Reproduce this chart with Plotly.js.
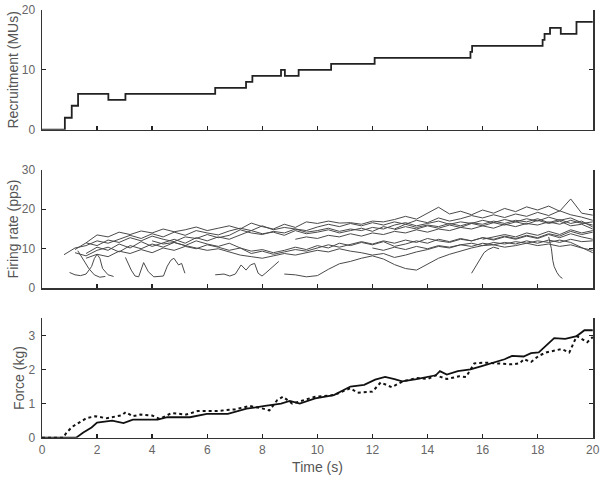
<!DOCTYPE html>
<html>
<head>
<meta charset="utf-8">
<script src="https://cdn.plot.ly/plotly-3.0.1.min.js"></script>
<style>html,body{margin:0;padding:0;background:#fff;}#chart{width:600px;height:482px;}</style>
</head>
<body>
<div id="chart"></div>
<script>
// ---------- Recruitment (step) ----------
const recTime = [0, 0.83, 1.08, 1.31, 2.41, 3.03, 6.29, 7.41, 7.64, 8.68, 8.82, 9.32, 10.5, 12.08, 15.56, 15.62, 18.18, 18.25, 18.45, 18.84, 19.41, 20.0];
const recCount = [0, 2, 4, 6, 5, 6, 7, 8, 9, 10, 9, 10, 11, 12, 13, 14, 15, 16, 17, 16, 18, 18];

// ---------- Firing rates (shared time grid, null = unit not yet active) ----------
const frTime = [0.8,1.2,1.6,2.0,2.4,2.8,3.2,3.6,4.0,4.4,4.8,5.2,5.6,6.0,6.4,6.8,7.2,7.6,8.0,8.4,8.8,9.2,9.6,10.0,10.4,10.8,11.2,11.6,12.0,12.4,12.8,13.2,13.6,14.0,14.4,14.8,15.2,15.6,16.0,16.4,16.8,17.2,17.6,18.0,18.4,18.8,19.2,19.6,20.0];
const N = null;
const fr1 = [N,N,11.5,13.5,13.0,14.2,13.6,14.5,14.0,15.0,14.3,14.8,15.5,14.6,15.2,15.8,15.0,16.5,15.6,15.0,16.2,15.4,16.8,16.4,17.0,16.5,16.6,16.2,17.0,16.8,17.4,18.2,17.5,19.0,20.5,18.8,19.5,18.6,19.8,19.0,20.2,19.4,20.6,19.8,20.8,19.5,22.6,19.0,18.5];
const fr2 = [8.5,10.2,10.8,12.0,11.4,12.5,13.4,12.6,13.8,13.0,14.2,13.4,14.6,14.0,13.5,14.5,15.2,14.6,15.8,14.8,15.4,15.0,14.6,15.5,16.2,15.6,16.4,15.8,16.6,16.0,16.8,16.2,17.2,16.6,17.8,17.0,17.6,18.4,17.8,18.6,17.9,18.8,18.2,19.2,18.4,19.6,18.6,18.0,17.2];
const fr3 = [N,9.8,11.5,10.8,12.2,11.6,12.8,12.0,13.2,12.4,11.8,13.0,12.6,13.6,12.8,13.4,14.8,14.0,13.6,14.4,14.0,15.0,14.2,14.6,15.2,14.4,15.0,14.6,15.4,15.0,16.0,16.6,15.8,16.4,17.0,16.2,16.8,16.4,17.2,16.6,17.4,16.8,17.6,17.0,18.0,17.2,17.8,16.6,16.0];
const fr4 = [N,N,8.8,10.4,9.6,11.2,10.2,11.8,10.6,11.6,12.4,11.4,12.8,12.0,13.0,12.4,13.6,14.6,13.8,14.2,13.4,14.6,13.8,14.2,14.8,14.0,14.6,15.2,14.4,15.6,15.0,16.2,15.4,16.0,15.6,16.4,15.8,16.6,16.2,17.0,16.4,17.2,16.8,17.6,16.6,17.4,16.4,17.0,15.5];
const fr5 = [N,9.0,8.2,9.6,10.4,9.2,10.8,10.0,11.2,10.4,11.6,10.8,12.0,11.2,10.6,11.4,10.2,9.4,9.8,9.0,9.6,10.4,9.8,10.8,10.2,11.4,10.8,11.6,11.0,11.8,10.6,11.2,12.0,11.4,12.4,11.8,12.6,12.0,12.8,12.4,13.2,12.6,13.4,12.8,13.8,13.2,14.4,13.6,14.2];
const fr6 = [N,N,7.6,8.6,8.0,9.4,8.8,9.8,9.0,10.2,9.6,10.6,10.0,11.0,10.4,9.6,10.2,8.8,9.4,8.6,9.2,9.8,9.4,10.2,11.0,10.4,11.2,11.8,11.2,12.0,11.4,12.2,11.6,12.6,12.0,11.6,12.4,12.0,12.8,12.2,13.0,12.4,13.2,12.6,13.6,12.8,13.8,13.0,12.4];
const fr7 = [N,N,N,N,N,N,N,N,12.0,11.2,11.6,10.8,10.2,9.6,10.0,9.2,8.4,8.0,7.6,8.2,8.8,8.4,9.0,9.6,9.2,10.0,9.4,9.0,8.4,8.8,7.8,8.4,9.2,9.8,10.6,10.2,11.0,10.6,11.4,11.0,11.6,11.2,12.0,11.4,12.2,11.6,12.4,11.8,12.0];
const fr8 = [N,N,N,N,N,N,N,N,N,N,N,N,N,N,N,N,N,N,N,N,3.6,3.4,2.9,3.2,4.8,6.2,6.8,7.6,8.2,7.4,6.0,5.0,4.6,6.0,7.6,8.6,9.4,10.2,10.8,11.0,10.4,10.8,11.4,10.8,11.2,10.6,11.0,10.2,9.6];
const fr9 = [N,N,N,N,N,N,N,N,N,N,N,N,N,N,N,N,N,N,N,N,N,N,N,N,N,N,N,N,10.2,9.6,10.4,9.8,10.6,10.0,10.8,10.4,11.0,11.4,10.8,11.6,11.2,11.8,11.4,12.0,11.6,12.2,11.6,10.4,9.0];
const fr10 = [N,N,N,N,N,N,N,N,N,N,N,N,N,N,N,N,N,N,N,N,N,12.4,13.0,12.6,13.4,13.0,13.8,13.2,14.0,13.6,14.4,14.0,14.8,14.2,15.0,14.6,15.4,15.0,15.8,15.2,16.2,15.6,16.4,16.0,16.8,16.2,17.2,16.4,16.8];
const fr11 = [N,N,N,N,N,N,N,N,N,N,N,N,N,N,N,N,N,N,N,N,N,N,N,N,N,N,N,N,N,N,14.8,15.6,15.0,15.8,15.2,16.0,15.4,16.4,15.8,16.6,16.0,16.8,16.2,17.2,16.4,17.0,15.8,16.2,15.0];
const fr12 = [N,N,N,N,N,N,N,N,N,N,N,N,N,N,N,N,N,N,N,N,N,N,N,N,N,N,N,N,N,N,N,N,N,N,N,N,N,N,12.4,13.0,13.6,13.0,14.0,13.4,14.4,13.6,14.8,14.0,14.6];

// short-lived low-rate units
const frag1T = [1.0,1.2,1.4,1.6,1.8,1.9,2.0,2.1,2.2,2.4,2.6];
const frag1V = [4.0,3.4,3.2,3.6,5.5,7.5,8.6,7.6,5.0,3.4,3.0];
const frag2T = [1.3,1.5,1.7,1.9,2.1,2.3];
const frag2V = [9.5,7.2,5.0,3.4,2.8,3.0];
const frag3T = [3.03,3.24,3.38,3.51,3.69,3.86,4.06,4.41,4.55,4.68,4.79,4.96,5.07,5.19];
const frag3V = [7.8,4.6,3.1,2.9,6.5,4.2,2.9,3.1,5.6,7.1,7.6,5.9,6.3,3.8];
const frag4T = [6.29,6.61,6.82,7.02,7.23,7.41,7.57,7.72,7.85,7.99,8.13,8.4,8.6];
const frag4V = [3.4,3.6,3.1,3.6,5.9,4.6,5.9,6.3,3.8,3.1,3.9,5.6,6.8];
const frag5T = [15.6,15.75,15.9,16.05,16.2,16.4,16.6];
const frag5V = [3.8,5.5,7.2,9.0,9.8,10.4,10.0];
const frag6T = [18.4,18.5,18.55,18.6,18.7,18.8,18.9];
const frag6V = [13.0,10.0,7.0,5.5,4.0,3.0,2.5];

// ---------- Force ----------
const forceTime = [0,1.24,1.5,1.8,2.0,2.55,2.96,3.3,4.2,4.55,5.37,5.99,6.75,7.43,8.1,8.68,9.0,9.36,9.92,10.6,11.2,11.7,12.1,12.46,12.8,13.08,13.6,14.3,14.45,14.7,15.1,15.56,15.97,16.39,16.8,17.07,17.49,17.76,18.04,18.6,19.0,19.42,19.7,20.0];
const forceMeasured = [0,0,0.15,0.3,0.44,0.5,0.43,0.53,0.53,0.6,0.6,0.7,0.7,0.85,0.93,1.0,1.08,1.0,1.15,1.25,1.5,1.55,1.7,1.78,1.72,1.65,1.72,1.83,1.95,1.85,1.95,2.0,2.1,2.2,2.3,2.4,2.38,2.48,2.5,2.92,2.9,2.98,3.15,3.15];
const estTime = [0,0.77,0.89,1.1,1.3,1.61,1.93,2.35,2.9,3.04,3.3,3.58,4.0,4.27,4.7,5.24,5.65,6.3,7.0,7.55,7.99,8.26,8.54,8.75,9.09,9.5,9.92,10.6,11.2,11.45,12.0,12.3,12.7,13.1,13.6,14.0,14.3,14.7,15.15,15.4,15.7,16.1,16.5,16.8,17.07,17.35,17.5,17.76,18.04,18.31,18.6,18.87,19.15,19.42,19.8,20.0];
const forceEstimated = [0,0,0.15,0.32,0.42,0.57,0.63,0.57,0.66,0.75,0.63,0.68,0.65,0.55,0.72,0.68,0.78,0.78,0.83,0.93,0.86,0.8,1.1,1.2,1.0,1.1,1.2,1.25,1.45,1.32,1.35,1.62,1.48,1.65,1.75,1.72,1.83,1.72,1.8,1.78,2.18,2.2,2.18,2.18,2.15,2.18,2.3,2.22,2.4,2.5,2.55,2.6,2.5,2.98,2.8,2.95];

// ---------- Build ----------
const frSeries = [fr1,fr2,fr3,fr4,fr5,fr6,fr7,fr8,fr9,fr10,fr11,fr12];
const frags = [[frag1T,frag1V],[frag2T,frag2V],[frag3T,frag3V],[frag4T,frag4V],[frag5T,frag5V],[frag6T,frag6V]];

const traces = [];
traces.push({x: recTime, y: recCount, type:'scatter', mode:'lines', line:{shape:'hv', color:'#222', width:1.8}, xaxis:'x3', yaxis:'y3', hoverinfo:'skip'});
frSeries.forEach(s => traces.push({x: frTime, y: s, type:'scatter', mode:'lines', line:{color:'#4a4a4a', width:1}, xaxis:'x2', yaxis:'y2', hoverinfo:'skip'}));
frags.forEach(f => traces.push({x: f[0], y: f[1], type:'scatter', mode:'lines', line:{color:'#4a4a4a', width:1}, xaxis:'x2', yaxis:'y2', hoverinfo:'skip'}));
traces.push({x: forceTime, y: forceMeasured, type:'scatter', mode:'lines', line:{color:'#111', width:1.8}, xaxis:'x', yaxis:'y', hoverinfo:'skip'});
traces.push({x: estTime, y: forceEstimated, type:'scatter', mode:'lines', line:{color:'#111', width:2, dash:'dot'}, xaxis:'x', yaxis:'y', hoverinfo:'skip'});

const tickFont = {family:'Liberation Sans, Arial, sans-serif', size:12, color:'#666'};
const titleFont = {family:'Liberation Sans, Arial, sans-serif', size:14, color:'#555'};
function xa(anchor, showLabels){
  return {anchor: anchor, domain:[0,1], range:[0,20.01], dtick:2, tick0:0, ticks:'inside', ticklen:4, tickwidth:1.3, tickcolor:'#222',
    showline:true, linecolor:'#333', linewidth:1.5, mirror:false, showgrid:false, zeroline:false,
    showticklabels: showLabels, tickfont: tickFont, ticklabeloverflow:'allow'};
}
function ya(anchor, domain, range, dtick, title){
  return {anchor: anchor, domain: domain, range: range, dtick: dtick, tick0:0, ticks:'inside', ticklen:4, tickwidth:1.3, tickcolor:'#222',
    showline:true, linecolor:'#333', linewidth:1.5, mirror:'ticks', showgrid:false, zeroline:false,
    tickfont: tickFont, ticklabelstandoff:3, title:{text:title, font:titleFont, standoff:0}};
}

const layout = {
  width:600, height:482,
  margin:{l:42, r:7, t:0, b:0},
  paper_bgcolor:'#fff', plot_bgcolor:'#fff',
  showlegend:false,
  xaxis: Object.assign(xa('y', true), {title:{text:'Time (s)', font:titleFont, standoff:6}}),
  yaxis: ya('x', [0.0919,0.3396], [0,3.5], 1, 'Force (kg)'),
  xaxis2: xa('y2', false),
  yaxis2: ya('x2', [0.4019,0.6479], [0,30], 10, 'Firing rate (pps)'),
  xaxis3: xa('y3', false),
  yaxis3: ya('x3', [0.7309,0.9793], [0,20], 10, 'Recruitment (MUs)')
};

Plotly.newPlot('chart', traces, layout, {staticPlot:true, displayModeBar:false});
</script>
</body>
</html>
